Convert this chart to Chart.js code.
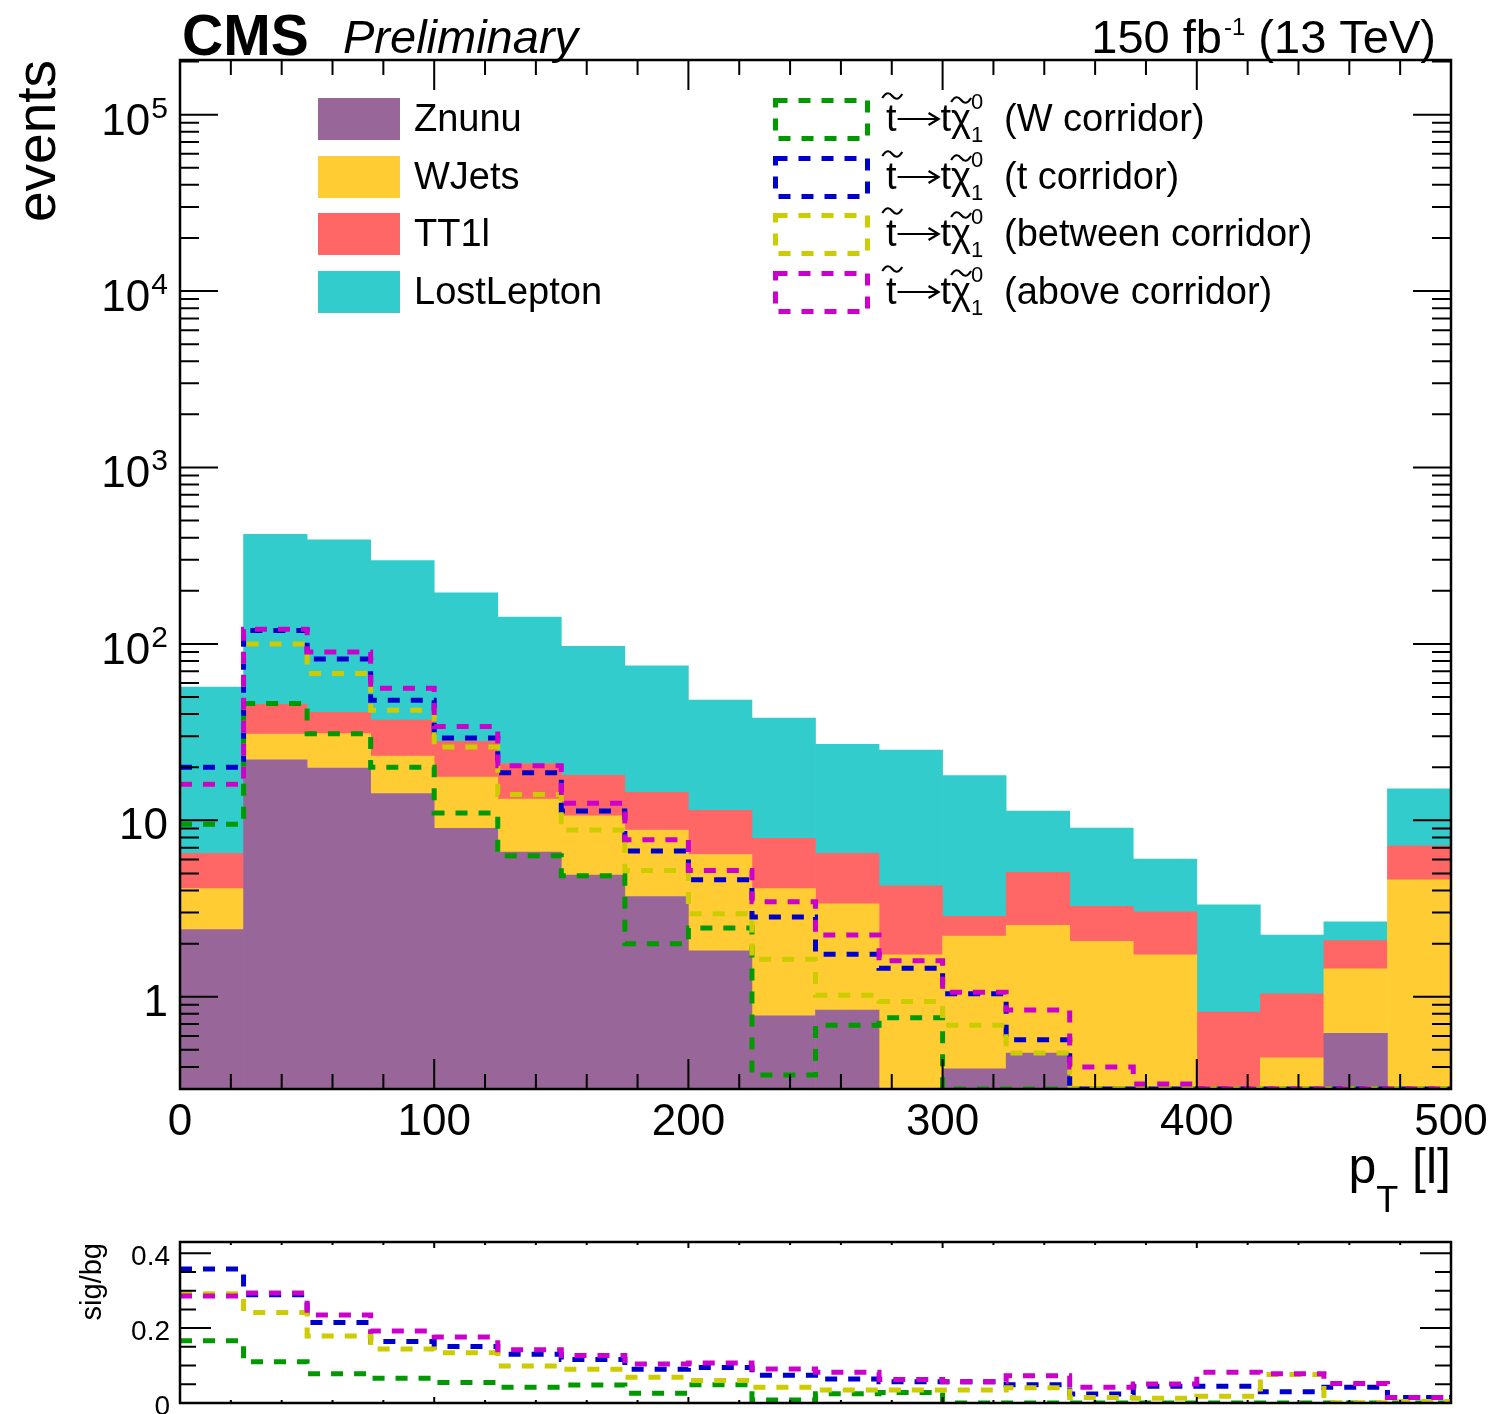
<!DOCTYPE html>
<html>
<head>
<meta charset="utf-8">
<script src="https://cdn.jsdelivr.net/npm/chart.js@4.4.1/dist/chart.umd.min.js"></script>
<style>
  html, body { margin: 0; padding: 0; background: #fff; }
  #wrap { position: relative; width: 1494px; height: 1414px; }
  canvas { position: absolute; left: 0; }
  #main { top: 0; }
  #ratio { top: 1230px; }
</style>
</head>
<body>
<div id="wrap">
  <canvas id="main" width="1494" height="1230"></canvas>
  <canvas id="ratio" width="1494" height="184"></canvas>
</div>
<script>
// bin edges of pT [l]
const binEdges = [0, 25, 50, 75, 100, 125, 150, 175, 200, 225, 250, 275, 300, 325, 350, 375, 400, 425, 450, 475, 500];

// background yields per bin
const znunu      = [2.4, 22, 19.8, 14.2, 9.0, 6.6, 4.9, 3.7, 1.82, 0.78, 0.84, 0, 0.39, 0.48, 0, 0, 0, 0, 0.62, 0];
const wjets      = [1.7, 8.8, 11.2, 8.9, 8.6, 6.6, 5.7, 5.1, 4.58, 3.32, 2.52, 1.73, 1.82, 2.06, 2.06, 1.73, 0, 0.45, 0.82, 4.6];
const tt1l       = [2.4, 14.7, 10.0, 13.9, 10.4, 7.8, 7.4, 5.6, 5.0, 3.8, 3.14, 2.52, 0.65, 2.54, 1.19, 1.3, 0.82, 0.59, 0.64, 2.56];
const lostLepton = [50.5, 372, 348, 260, 167, 121, 79, 60.6, 36.6, 30.1, 20.5, 20.75, 15.1, 6.2, 5.8, 3.0, 2.5, 1.2, 0.58, 7.9];

// signal yields
const sigW       = [9.5, 46, 31, 20, 11, 6.3, 4.85, 2.0, 2.45, 0.36, 0.69, 0.76, 0, 0, 0, 0, 0, 0, 0, 0];
const sigT       = [20, 119, 82, 48, 29.3, 18.6, 11.3, 6.7, 4.6, 2.83, 1.74, 1.45, 1.04, 0.57, 0.22, 0.27, 0.15, 0.07, 0.11, 0.23];
const sigBetween = [16, 100, 68, 42, 26, 14, 8.8, 5.2, 2.95, 1.63, 1.02, 0.94, 0.69, 0.48, 0.14, 0.08, 0.06, 0.17, 0, 0.06];
const sigAbove   = [16, 121, 90, 56, 34, 20.4, 12.5, 7.75, 5.2, 3.46, 2.24, 1.6, 1.06, 0.84, 0.40, 0.32, 0.27, 0.17, 0.14, 0.23];

// sig/bg panel
const ratioW       = [0.166, 0.110, 0.078, 0.066, 0.055, 0.042, 0.048, 0.026, 0.049, 0.008, 0.025, 0.028, 0, 0, 0, 0, 0, 0, 0, 0];
const ratioT       = [0.358, 0.289, 0.215, 0.164, 0.151, 0.130, 0.116, 0.090, 0.095, 0.074, 0.064, 0.057, 0.057, 0.049, 0.024, 0.045, 0.045, 0.030, 0.042, 0.015];
const ratioBetween = [0.292, 0.242, 0.179, 0.144, 0.134, 0.099, 0.090, 0.069, 0.060, 0.042, 0.035, 0.035, 0.035, 0.041, 0.015, 0.013, 0.018, 0.076, 0.001, 0.004];
const ratioAbove   = [0.286, 0.294, 0.235, 0.192, 0.176, 0.142, 0.127, 0.104, 0.107, 0.091, 0.082, 0.063, 0.057, 0.073, 0.042, 0.051, 0.082, 0.078, 0.052, 0.015];

const bgNames  = ['Znunu', 'WJets', 'TT1l', 'LostLepton'];
const sigNames = ['(W corridor)', '(t corridor)', '(between corridor)', '(above corridor)'];

const xTicks = [0, 100, 200, 300, 400, 500];
const yTicks = [1, 10, 100, 1000, 10000, 100000];
const ratioTicks = [0, 0.2, 0.4];

const bgColors  = ['#996699', '#ffcc33', '#ff6666', '#33cccc'];
const sigColors = ['#009900', '#0000cc', '#cccc00', '#cc00cc'];

const Y_MIN = 0.3, Y_MAX = 2.04e5;
const R_MAX = 0.43;
const FONT = '"Liberation Sans", Arial, Helvetica, sans-serif';
const DASH = [12, 11];

function barPoints(vals) {
    return vals.map((v, i) => ({ x: (binEdges[i] + binEdges[i + 1]) / 2, y: v }));
}

// outline of a histogram; values below the axis are drawn on the frame like ROOT does
function stepPoints(vals, floor) {
    const pts = vals.map((v, i) => ({ x: binEdges[i], y: Math.max(v, floor) }));
    pts.push({ x: binEdges[binEdges.length - 1], y: Math.max(vals[vals.length - 1], floor) });
    return pts;
}

function lineSet(label, vals, color, floor, stack) {
    return {
        type: 'line', label: label, data: stepPoints(vals, floor), stack: stack,
        borderColor: color, borderWidth: 5, borderDash: DASH, stepped: 'before',
        pointRadius: 0, fill: false, borderCapStyle: 'butt'
    };
}

function barSet(label, vals, color) {
    return {
        type: 'bar', label: label, data: barPoints(vals), stack: 'bg', grouped: false,
        backgroundColor: color, borderWidth: 0, barPercentage: 1, categoryPercentage: 1
    };
}

function drawTilde(ctx, cx, cy, hw) {
    ctx.beginPath();
    ctx.moveTo(cx - hw, cy + 2);
    ctx.bezierCurveTo(cx - hw * 0.55, cy - 5, cx - hw * 0.25, cy - 3, cx, cy);
    ctx.bezierCurveTo(cx + hw * 0.25, cy + 3, cx + hw * 0.55, cy + 5, cx + hw, cy - 2);
    ctx.lineWidth = 2.2;
    ctx.setLineDash([]);
    ctx.strokeStyle = '#000';
    ctx.stroke();
}

function drawArrow(ctx, x0, x1, y) {
    ctx.beginPath();
    ctx.moveTo(x0, y);
    ctx.lineTo(x1, y);
    ctx.moveTo(x1 - 10, y - 6);
    ctx.lineTo(x1, y);
    ctx.lineTo(x1 - 10, y + 6);
    ctx.lineWidth = 2.2;
    ctx.setLineDash([]);
    ctx.strokeStyle = '#000';
    ctx.stroke();
}

function drawStopLabel(ctx, x, base, suffix) {
    ctx.fillStyle = '#000';
    ctx.textAlign = 'left';
    ctx.font = '38px ' + FONT;
    ctx.fillText('t', x, base);
    const tw = ctx.measureText('t').width;
    drawTilde(ctx, x + tw / 2 + 1, base - 35, 10);
    let cx = x + tw;
    drawArrow(ctx, cx + 1, cx + 42, base - 12);
    cx += 44;
    ctx.fillText('t', cx, base);
    cx += tw;
    ctx.fillText('\u03c7', cx, base);
    const cw = ctx.measureText('\u03c7').width;
    drawTilde(ctx, cx + cw / 2, base - 31, 10);
    cx += cw;
    ctx.font = '22px ' + FONT;
    ctx.fillText('0', cx, base - 22);
    ctx.fillText('1', cx, base + 11);
    ctx.font = '38px ' + FONT;
    ctx.fillText(suffix, 1004, base);
}

const mainDecor = {
    id: 'mainDecor',
    afterDatasetsDraw(chart) {
        const { ctx, chartArea: a, scales: { x, y } } = chart;
        ctx.save();
        ctx.strokeStyle = '#000';
        ctx.setLineDash([]);
        ctx.lineWidth = 2;
        ctx.beginPath();
        // x ticks, top and bottom
        for (let v = 0; v <= 500; v += 20) {
            const px = x.getPixelForValue(v);
            const len = v % 100 === 0 ? 30 : 15;
            ctx.moveTo(px, a.bottom); ctx.lineTo(px, a.bottom - len);
            ctx.moveTo(px, a.top); ctx.lineTo(px, a.top + len);
        }
        // log ticks, left and right
        for (let e = -1; e <= 5; e++) {
            for (let k = 1; k <= 9; k++) {
                const v = k * Math.pow(10, e);
                if (v < Y_MIN || v > Y_MAX) continue;
                const py = y.getPixelForValue(v);
                const len = k === 1 ? 38 : 19;
                ctx.moveTo(a.left, py); ctx.lineTo(a.left + len, py);
                ctx.moveTo(a.right, py); ctx.lineTo(a.right - len, py);
            }
        }
        ctx.stroke();
        ctx.lineWidth = 2.5;
        ctx.strokeRect(a.left, a.top, a.right - a.left, a.bottom - a.top);

        // tick labels
        ctx.fillStyle = '#000';
        ctx.font = '44px ' + FONT;
        ctx.textAlign = 'center';
        xTicks.forEach(v => ctx.fillText(String(v), x.getPixelForValue(v), 1135));
        yTicks.forEach(v => {
            const py = y.getPixelForValue(v);
            const exp = Math.round(Math.log10(v));
            ctx.textAlign = 'right';
            if (exp <= 1) {
                ctx.font = '44px ' + FONT;
                ctx.fillText(String(v), 168, py + 19);
            } else {
                ctx.font = '30px ' + FONT;
                ctx.fillText(String(exp), 168, py + 3);
                const ew = ctx.measureText(String(exp)).width;
                ctx.font = '44px ' + FONT;
                ctx.fillText('10', 168 - ew - 1, py + 20);
            }
        });

        // titles
        ctx.textAlign = 'left';
        ctx.font = 'bold 57px ' + FONT;
        ctx.fillText('CMS', 182, 55);
        ctx.font = 'italic 47px ' + FONT;
        ctx.fillText('Preliminary', 343, 53);

        ctx.textAlign = 'right';
        ctx.font = '47px ' + FONT;
        ctx.fillText(' (13 TeV)', 1436, 53);
        let rx = 1436 - ctx.measureText(' (13 TeV)').width;
        ctx.font = '24px ' + FONT;
        ctx.fillText('-1', rx, 35);
        rx -= ctx.measureText('-1').width + 2;
        ctx.font = '47px ' + FONT;
        ctx.fillText('150 fb', rx, 53);

        // x title
        ctx.font = '50px ' + FONT;
        ctx.fillText(' [l]', 1451, 1183);
        let tx = 1451 - ctx.measureText(' [l]').width;
        ctx.font = '36px ' + FONT;
        ctx.fillText('T', tx, 1212);
        tx -= ctx.measureText('T').width;
        ctx.font = '50px ' + FONT;
        ctx.fillText('p', tx, 1183);

        // y title
        ctx.save();
        ctx.translate(55, 60);
        ctx.rotate(-Math.PI / 2);
        ctx.textAlign = 'right';
        ctx.font = '55px ' + FONT;
        ctx.fillText('events', 0, 0);
        ctx.restore();

        // legend
        const rowTops = [98, 156, 213, 271];
        ctx.textAlign = 'left';
        bgNames.forEach((name, i) => {
            ctx.fillStyle = bgColors[i];
            ctx.fillRect(318, rowTops[i], 82, 42);
            ctx.fillStyle = '#000';
            ctx.font = '38px ' + FONT;
            ctx.fillText(name, 414, rowTops[i] + 33);
        });
        sigNames.forEach((name, i) => {
            ctx.strokeStyle = sigColors[i];
            ctx.lineWidth = 5;
            ctx.setLineDash(DASH);
            ctx.strokeRect(775.5, rowTops[i] + 2.5, 92, 38);
            drawStopLabel(ctx, 886, rowTops[i] + 33, name);
        });
        ctx.restore();
    }
};

const ratioDecor = {
    id: 'ratioDecor',
    afterDatasetsDraw(chart) {
        const { ctx, chartArea: a, scales: { x, y } } = chart;
        ctx.save();
        ctx.strokeStyle = '#000';
        ctx.setLineDash([]);
        ctx.lineWidth = 2;
        ctx.beginPath();
        for (let v = 0; v <= 500; v += 20) {
            const px = x.getPixelForValue(v);
            const len = v % 100 === 0 ? 6 : 3;
            ctx.moveTo(px, a.bottom); ctx.lineTo(px, a.bottom - len);
            ctx.moveTo(px, a.top); ctx.lineTo(px, a.top + len);
        }
        for (let i = 0; i * 0.05 <= R_MAX + 1e-9; i++) {
            const py = y.getPixelForValue(i * 0.05);
            const len = i % 4 === 0 ? 31 : 16;
            ctx.moveTo(a.left, py); ctx.lineTo(a.left + len, py);
            ctx.moveTo(a.right, py); ctx.lineTo(a.right - len, py);
        }
        ctx.stroke();
        ctx.lineWidth = 2.5;
        ctx.strokeRect(a.left, a.top, a.right - a.left, a.bottom - a.top);

        ctx.fillStyle = '#000';
        ctx.font = '28px ' + FONT;
        ctx.textAlign = 'right';
        ratioTicks.forEach(v => ctx.fillText(String(v), 170, y.getPixelForValue(v) + 12));

        ctx.save();
        ctx.translate(101, 13);
        ctx.rotate(-Math.PI / 2);
        ctx.textAlign = 'right';
        ctx.font = '29px ' + FONT;
        ctx.fillText('sig/bg', 0, 0);
        ctx.restore();
        ctx.restore();
    }
};

const xScale = { type: 'linear', min: 0, max: 500, offset: false, display: false, ticks: { stepSize: 100 } };

new Chart(document.getElementById('main'), {
    type: 'bar',
    data: {
        datasets: [
            lineSet('above corridor', sigAbove, sigColors[3], Y_MIN, 's3'),
            lineSet('between corridor', sigBetween, sigColors[2], Y_MIN, 's2'),
            lineSet('t corridor', sigT, sigColors[1], Y_MIN, 's1'),
            lineSet('W corridor', sigW, sigColors[0], Y_MIN, 's0'),
            barSet(bgNames[0], znunu, bgColors[0]),
            barSet(bgNames[1], wjets, bgColors[1]),
            barSet(bgNames[2], tt1l, bgColors[2]),
            barSet(bgNames[3], lostLepton, bgColors[3])
        ]
    },
    options: {
        responsive: false,
        devicePixelRatio: 1,
        animation: false,
        layout: { padding: { left: 180, right: 43, top: 60, bottom: 141 } },
        scales: {
            x: xScale,
            y: { type: 'logarithmic', min: Y_MIN, max: Y_MAX, stacked: true, display: false }
        },
        plugins: { legend: { display: false }, tooltip: { enabled: false } }
    },
    plugins: [mainDecor]
});

new Chart(document.getElementById('ratio'), {
    type: 'line',
    data: {
        datasets: [
            lineSet('above corridor', ratioAbove, sigColors[3], 0, 'r3'),
            lineSet('between corridor', ratioBetween, sigColors[2], 0, 'r2'),
            lineSet('t corridor', ratioT, sigColors[1], 0, 'r1'),
            lineSet('W corridor', ratioW, sigColors[0], 0, 'r0')
        ]
    },
    options: {
        responsive: false,
        devicePixelRatio: 1,
        animation: false,
        layout: { padding: { left: 180, right: 43, top: 12, bottom: 11 } },
        scales: {
            x: xScale,
            y: { type: 'linear', min: 0, max: R_MAX, stacked: true, display: false }
        },
        plugins: { legend: { display: false }, tooltip: { enabled: false } }
    },
    plugins: [ratioDecor]
});
</script>
</body>
</html>
